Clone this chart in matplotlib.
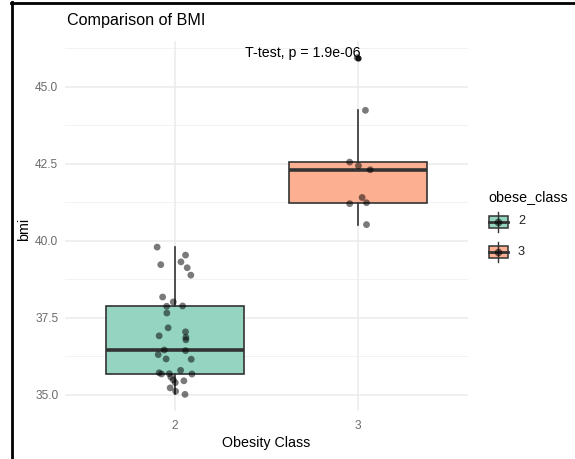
"""BMI by obesity class: boxplot with jittered points (ggplot-like look)."""

import matplotlib
matplotlib.use("Agg")
import matplotlib.pyplot as plt
from matplotlib.patches import Rectangle
from matplotlib.lines import Line2D

plt.rcParams["font.family"] = ["Liberation Sans", "DejaVu Sans"]

# --- data ---
classes = ["2", "3"]
bmi_class2 = [39.80, 39.54, 39.23, 39.32, 39.13, 38.89, 38.18, 38.02, 37.88, 37.89,
              37.66, 37.18, 37.05, 36.92, 36.87, 36.79, 36.46, 36.44, 36.31, 36.17,
              36.16, 35.80, 35.72, 35.68, 35.69, 35.68, 35.58, 35.49, 35.40, 35.46,
              35.23, 35.12, 35.02]
jitter_class2 = [-0.097, 0.058, -0.077, 0.033, 0.067, 0.087, -0.067, -0.009, -0.045, 0.042,
                 -0.044, -0.037, 0.058, -0.086, 0.060, 0.060, -0.058, 0.058, -0.091, -0.048,
                 0.089, 0.031, -0.086, -0.073, -0.031, 0.093, -0.022, -0.009, 0.002, 0.049,
                 -0.026, 0.004, 0.055]
bmi_class3 = [45.95, 44.24, 42.56, 42.44, 42.31, 41.41, 41.21, 41.24, 40.53]
jitter_class3 = [-0.005, 0.040, -0.046, 0.002, 0.066, 0.022, -0.046, 0.046, 0.046]
p_label = "T-test, p = 1.9e-06"

fills = ["#94D4C0", "#FDAF91"]
edge = "#333333"

W, H = 575, 459
fig = plt.figure(figsize=(W / 100, H / 100), dpi=100)
ax = fig.add_axes([65 / W, 1 - 411 / H, 403 / W, 370 / H])

# grid like theme_minimal
ax.set_ylim(34.48, 46.49)
ax.set_xlim(0.4, 2.6)
for y in [36.25, 38.75, 41.25, 43.75, 46.25]:
    ax.axhline(y, color="#F2F2F2", lw=0.7, zorder=0)
for y in [35.0, 37.5, 40.0, 42.5, 45.0]:
    ax.axhline(y, color="#EBEBEB", lw=1.1, zorder=0)
for x in [1, 2]:
    ax.axvline(x, color="#EBEBEB", lw=1.1, zorder=0)

bp = ax.boxplot([bmi_class2, bmi_class3], positions=[1, 2], widths=0.75,
                patch_artist=True, showcaps=False, whis=1.5,
                boxprops=dict(edgecolor=edge, linewidth=1.2),
                whiskerprops=dict(color=edge, linewidth=1.2),
                medianprops=dict(color=edge, linewidth=2.6),
                flierprops=dict(marker="o", markerfacecolor="#222222", markeredgecolor="none",
                                markersize=4.5))
for patch, c in zip(bp["boxes"], fills):
    patch.set_facecolor(c)

for pos, vals, jit in [(1, bmi_class2, jitter_class2), (2, bmi_class3, jitter_class3)]:
    ax.scatter([pos + j for j in jit], vals, s=24, color="black", alpha=0.52,
               edgecolors="none", zorder=4)

ax.text(1.70, 46.11, p_label, ha="center", va="center", fontsize=10.2, color="black")

ax.set_xticks([1, 2])
ax.set_xticklabels(classes)
ax.set_yticks([35.0, 37.5, 40.0, 42.5, 45.0])
ax.set_yticklabels(["35.0", "37.5", "40.0", "42.5", "45.0"])
ax.tick_params(length=0, labelsize=8.6, labelcolor="#6b6b6b")
ax.tick_params(axis="x", pad=6.5)
ax.tick_params(axis="y", pad=4.8)
for s in ax.spines.values():
    s.set_visible(False)

fig.text(266 / W, 1 - 443 / H, "Obesity Class", ha="center", va="center", fontsize=10.3)
fig.text(24 / W, 1 - 229 / H, "bmi", ha="center", va="center", rotation=90, fontsize=10.3)
fig.text(67 / W, 1 - 25 / H, "Comparison of BMI", ha="left", va="baseline", fontsize=11.6)

# legend drawn in pixel space
lax = fig.add_axes([0, 0, 1, 1], facecolor="none")
lax.set_xlim(0, W)
lax.set_ylim(H, 0)
lax.axis("off")
lax.text(488, 197, "obese_class", ha="left", va="center", fontsize=10.3)
for cy, c, lab in [(221.5, fills[0], classes[0]), (252, fills[1], classes[1])]:
    lax.add_line(Line2D([498, 498], [cy - 10, cy + 10], color=edge, lw=1.0))
    lax.add_patch(Rectangle((488.5, cy - 6), 19, 12, facecolor=c, edgecolor=edge, lw=1.1))
    lax.add_line(Line2D([488.5, 507.5], [cy, cy], color=edge, lw=2.0))
    lax.plot([498], [cy], "o", color="black", alpha=0.55, ms=5.5, mec="none")
    lax.text(518, cy, lab, ha="left", va="center", fontsize=9.2, color="#222222")

# screenshot frame on left and top
lax.add_line(Line2D([11.5, 11.5], [2, H], color="black", lw=2))
lax.add_line(Line2D([11, W], [2.5, 2.5], color="black", lw=2))

fig.savefig("out.png", dpi=100)
